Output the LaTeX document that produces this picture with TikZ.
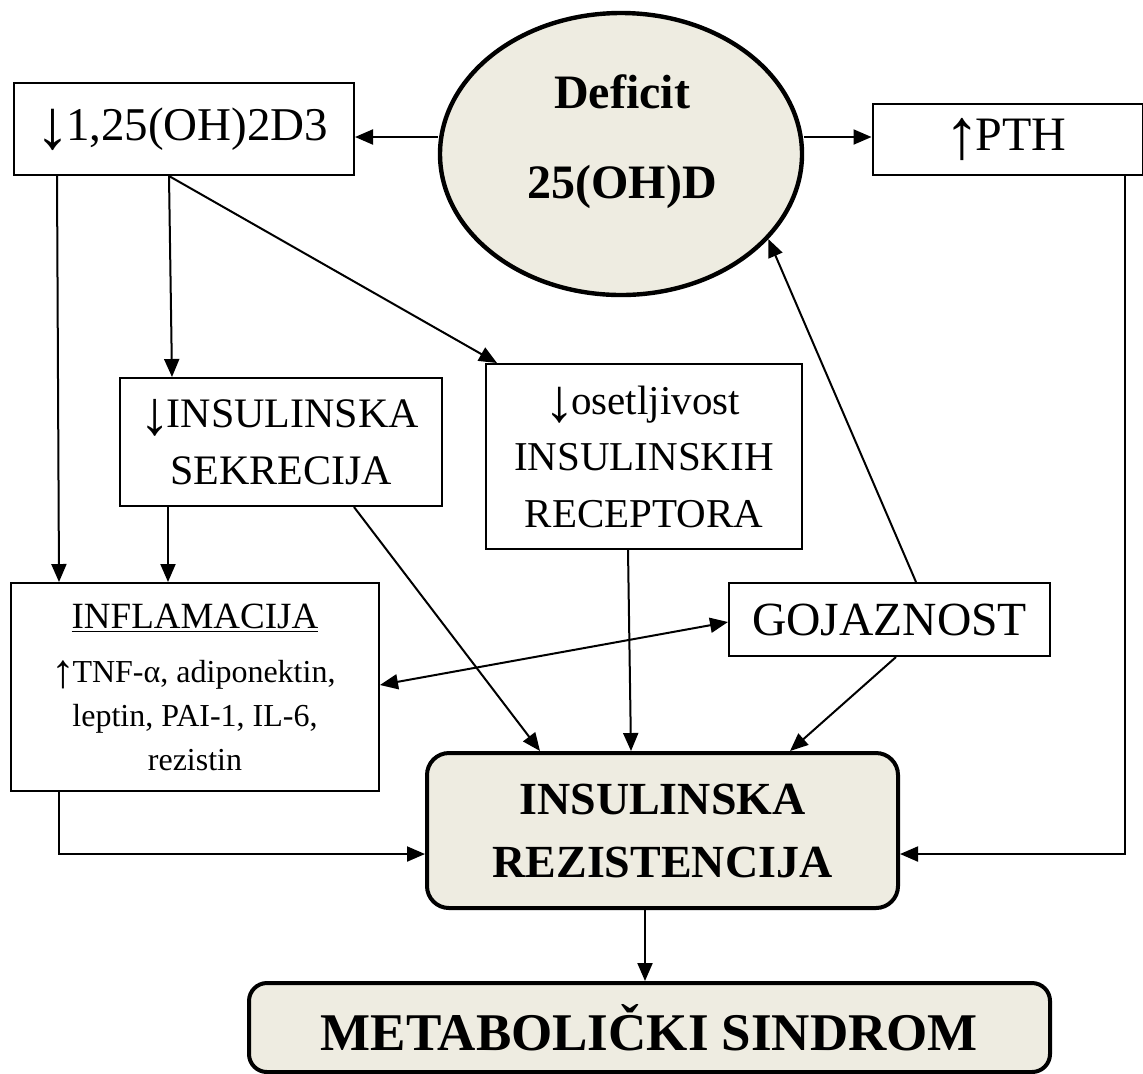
\documentclass[tikz,border=0pt]{standalone}
\usepackage{fontspec}
\usepackage{graphicx}
\setmainfont{Liberation Serif}
\usetikzlibrary{arrows.meta,shapes.geometric}
\definecolor{beige}{HTML}{EEECE1}
\newcommand{\myDn}{\kern-0.08em\raisebox{-0.22em}{\resizebox{!}{0.88em}{\raisebox{\depth}{↓}}}\kern-0.1em}
\newcommand{\myUp}{\kern-0.08em\raisebox{-0.22em}{\resizebox{!}{0.88em}{\raisebox{\depth}{↑}}}\kern-0.1em}
\begin{document}
\begin{tikzpicture}[x=0.5pt,y=-0.5pt,
  box/.style={draw,line width=1pt,inner sep=0pt,align=center},
  thickbox/.style={draw,line width=2pt,fill=beige,rounded corners=11pt,inner sep=0pt,align=center},
  arr/.style={line width=1pt,-{Triangle[length=9pt,width=7.5pt]}},
  darr/.style={line width=1pt,{Triangle[length=9pt,width=7.5pt]}-{Triangle[length=9pt,width=7.5pt]}}]
\useasboundingbox (0,0) rectangle (1143,1073);

% nodes
\node[box,minimum width=170pt,minimum height=46pt,font=\fontsize{23.5}{28}\selectfont] (B1) at (184,129) {\myDn1,25(OH)2D3};
\node[draw,ellipse,line width=2.2pt,fill=beige,minimum width=181pt,minimum height=141pt,inner sep=0pt] (E) at (621,154) {};
\node[font=\bfseries\fontsize{24}{45}\selectfont,align=center,inner sep=0pt] (ET) at (622,142) {Deficit\\25(OH)D};
\node[box,minimum width=135pt,minimum height=35.5pt,font=\fontsize{24}{28}\selectfont] (PTH) at (1007.5,139.5) {\myUp PTH};
\node[box,minimum width=161pt,minimum height=64pt,font=\fontsize{21}{28.5}\selectfont] (SEK) at (281,442) {\myDn INSULINSKA\\SEKRECIJA};
\node[box,minimum width=158pt,minimum height=92.5pt,font=\fontsize{20.5}{28.25}\selectfont] (OSE) at (644,456.5) {\myDn osetljivost\\INSULINSKIH\\RECEPTORA};
\node[box,minimum width=160.5pt,minimum height=36.5pt,font=\fontsize{23.8}{28}\selectfont] (GOJ) at (889.5,619.5) {GOJAZNOST};
\node[box,minimum width=184pt,minimum height=104pt,font=\fontsize{16}{22}\selectfont] (INF) at (195,687)
  {{\fontsize{18.5}{22}\selectfont\underline{INFLAMACIJA}}\\[5pt]\myUp TNF-α, adiponektin,\\leptin, PAI-1, IL-6,\\rezistin};
\node[thickbox,minimum width=235.5pt,minimum height=77.5pt,font=\bfseries\fontsize{23}{31.5}\selectfont] (IR) at (662.5,830.5) {INSULINSKA\\REZISTENCIJA};
\node[thickbox,rounded corners=9pt,minimum width=400.5pt,minimum height=44.5pt,font=\bfseries\fontsize{26.5}{30}\selectfont] (MS) at (649.5,1027.5) {METABOLIČKI SINDROM};

% connectors
\draw[arr] ([yshift=8.5pt]E.west) -- ([yshift=-4pt]B1.east);
\draw[arr] ([yshift=8.5pt]E.east) -- ([yshift=1.25pt]PTH.west);
\draw[arr] ([xshift=78pt]B1.south west) -- ([xshift=26.5pt]SEK.north west);
\draw[arr] ([xshift=78pt]B1.south west) -- ([xshift=6pt]OSE.north west);
\draw[arr] ([xshift=22pt]B1.south west) -- ([xshift=24.5pt]INF.north west);
\draw[arr] ([xshift=24.5pt]SEK.south west) -- ([xshift=79pt]INF.north west);
\draw[arr] ([xshift=117.5pt]SEK.south west) -- ([xshift=57.5pt]IR.north west);
\draw[arr] ([xshift=71.5pt]OSE.south west) -- ([xshift=103pt]IR.north west);
\draw[arr] ([xshift=94pt]GOJ.north west) -- (E.-30.5);
\draw[darr] ([yshift=1pt]INF.east) -- ([yshift=-1.25pt]GOJ.west);
\draw[arr] ([xshift=84pt]GOJ.south west) -- ([xshift=182.5pt]IR.north west);
\draw[arr] ([xshift=24.5pt]INF.south west) |- ([yshift=-11.75pt]IR.west);
\draw[arr] ([xshift=126.5pt]PTH.south west) |- ([yshift=-11.75pt]IR.east);
\draw[arr] ([xshift=110pt]IR.south west) -- ([xshift=199pt]MS.north west);
\end{tikzpicture}
\end{document}
